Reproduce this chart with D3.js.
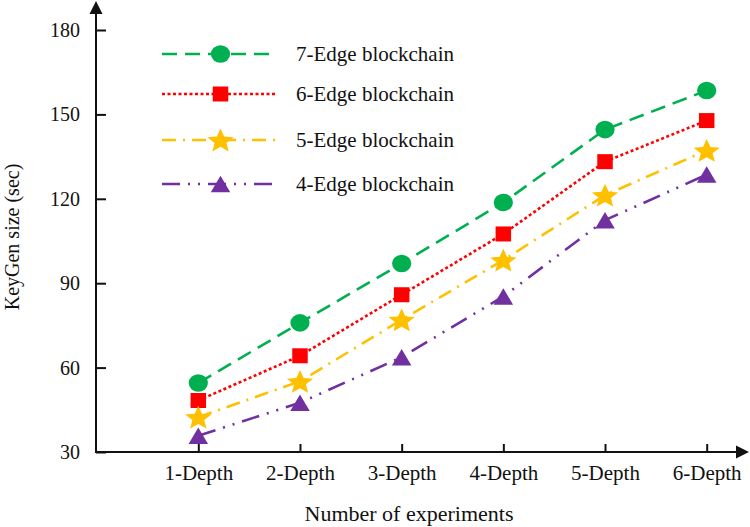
<!DOCTYPE html>
<html>
<head>
<meta charset="utf-8">
<script src="https://cdn.jsdelivr.net/npm/d3@7"></script>
<style>
  html, body { margin: 0; padding: 0; background: #fff; }
  svg { display: block; }
  text { font-family: "Liberation Serif", "Times New Roman", serif; fill: #111; }
</style>
</head>
<body>
<svg id="chart" width="750" height="527"></svg>
<script>
// ---- data ----
const categories = ["1-Depth", "2-Depth", "3-Depth", "4-Depth", "5-Depth", "6-Depth"];
const seriesNames = ["7-Edge blockchain", "6-Edge blockchain", "5-Edge blockchain", "4-Edge blockchain"];
const edge7 = [54.5, 75.9, 97.0, 118.7, 144.6, 158.5];
const edge6 = [48.3, 64.2, 85.9, 107.5, 133.2, 147.8];
const edge5 = [42.4, 55.1, 77.0, 98.2, 121.3, 137.2];
const edge4 = [35.8, 47.5, 63.7, 85.3, 112.4, 128.6];
const yTicks = [30, 60, 90, 120, 150, 180];
const xTitle = "Number of experiments";
const yTitle = "KeyGen size (sec)";

// ---- styles ----
const colors = ["#00B050", "#FF0000", "#FFC000", "#7030A0"];
const dashes = ["15,8", "3,2.5", "14,7,2,7", "18,8,2,8,2,8"];
const markers = ["circle", "square", "star", "triangle"];
const seriesValues = [edge7, edge6, edge5, edge4];

const svg = d3.select("#chart");
const axisX0 = 96, axisY0 = 452;

const x = d3.scalePoint().domain(categories).range([198.3, 706.7]);
const y = d3.scaleLinear().domain([30, 180]).range([axisY0, 30]);

function markerPath(type) {
  if (type === "square") {
    const w = 15.5, h = 15;
    return `M${-w/2},${-h/2}H${w/2}V${h/2}H${-w/2}Z`;
  }
  if (type === "triangle") {
    const w = 19.5, h = 16.5;
    return `M0,${-h/2}L${w/2},${h/2}L${-w/2},${h/2}Z`;
  }
  if (type === "star") {
    const R = 12.6, r = R * 0.45, sx = 1.1;
    const pts = [];
    for (let i = 0; i < 10; i++) {
      const rad = i % 2 === 0 ? R : r;
      const a = -Math.PI / 2 + i * Math.PI / 5;
      pts.push([sx * rad * Math.cos(a), rad * Math.sin(a) + R * 0.095]);
    }
    return "M" + pts.map(p => p[0].toFixed(2) + "," + p[1].toFixed(2)).join("L") + "Z";
  }
  return null;
}

function drawMarker(g, type, color) {
  if (type === "circle") {
    g.append("ellipse").attr("rx", 9.6).attr("ry", 8.8).attr("fill", color);
  } else {
    g.append("path").attr("d", markerPath(type)).attr("fill", color);
  }
}

// ---- axes ----
const yAxis = d3.axisLeft(y).tickValues(yTicks).tickSize(-10).tickPadding(16).tickFormat(d3.format("d"));
const gy = svg.append("g").attr("transform", `translate(${axisX0},0)`).call(yAxis);
gy.select(".domain").remove();
gy.selectAll(".tick line").attr("stroke", "#111").attr("stroke-width", 2);
gy.selectAll(".tick text").style("font-size", "20px").attr("fill", "#111")
  .attr("font-family", '"Liberation Serif", "Times New Roman", serif');

const xAxis = d3.axisBottom(x).tickSize(-8).tickPadding(13);
const gx = svg.append("g").attr("transform", `translate(0,${axisY0})`).call(xAxis);
gx.select(".domain").remove();
gx.selectAll(".tick line").attr("stroke", "#111").attr("stroke-width", 2);
gx.selectAll(".tick text").style("font-size", "21px").attr("fill", "#111")
  .attr("font-family", '"Liberation Serif", "Times New Roman", serif');

// axis lines with arrows
svg.append("line").attr("x1", axisX0).attr("y1", axisY0 + 1).attr("x2", axisX0).attr("y2", 10)
  .attr("stroke", "#111").attr("stroke-width", 2);
svg.append("path").attr("d", `M${axisX0},1L${axisX0 + 6.5},14L${axisX0 - 6.5},14Z`).attr("fill", "#111");
svg.append("line").attr("x1", axisX0 - 1).attr("y1", axisY0).attr("x2", 740).attr("y2", axisY0)
  .attr("stroke", "#111").attr("stroke-width", 2);
svg.append("path").attr("d", `M749,${axisY0}L736,${axisY0 - 6.5}L736,${axisY0 + 6.5}Z`).attr("fill", "#111");

// axis titles
svg.append("text").attr("x", 409).attr("y", 521).attr("text-anchor", "middle")
  .style("font-size", "22px").text(xTitle);
svg.append("text").attr("transform", "translate(19,237) rotate(-90)").attr("text-anchor", "middle")
  .style("font-size", "20px").text(yTitle);

// ---- series ----
const line = d3.line().x((d, i) => x(categories[i])).y(d => y(d));
seriesValues.forEach((vals, si) => {
  svg.append("path").datum(vals).attr("d", line)
    .attr("fill", "none").attr("stroke", colors[si]).attr("stroke-width", 2.6)
    .attr("stroke-dasharray", dashes[si]);
});
seriesValues.forEach((vals, si) => {
  vals.forEach((v, i) => {
    const g = svg.append("g").attr("transform", `translate(${x(categories[i])},${y(v)})`);
    drawMarker(g, markers[si], colors[si]);
  });
});

// ---- legend ----
const legendRows = [54, 94, 140, 184];
seriesNames.forEach((name, si) => {
  const ly = legendRows[si];
  svg.append("line").attr("x1", 162).attr("x2", 277).attr("y1", ly).attr("y2", ly)
    .attr("stroke", colors[si]).attr("stroke-width", 2.6).attr("stroke-dasharray", dashes[si]);
  const g = svg.append("g").attr("transform", `translate(220.5,${ly})`);
  drawMarker(g, markers[si], colors[si]);
  svg.append("text").attr("x", 296).attr("y", ly).attr("dy", "0.35em")
    .style("font-size", "21px").text(name);
});
</script>
</body>
</html>
